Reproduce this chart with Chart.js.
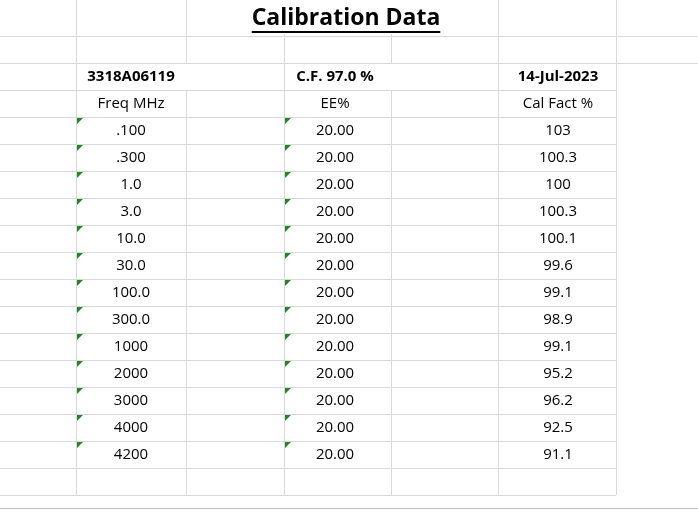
<!DOCTYPE html>
<html><head><meta charset="utf-8">
<script src="https://cdn.jsdelivr.net/npm/chart.js@4"></script>
<style>html,body{margin:0;padding:0;background:#fff}#wrap{width:698px;height:515px}</style>
</head><body><div id="wrap"><canvas id="c" width="698" height="515"></canvas></div>
<script>
const title = "Calibration Data";
const headers = ["3318A06119", "C.F. 97.0 %", "14-Jul-2023"];
const subHeaders = ["Freq MHz", "EE%", "Cal Fact %"];
const freqs = [".100", ".300", "1.0", "3.0", "10.0", "30.0", "100.0", "300.0", "1000", "2000", "3000", "4000", "4200"];
const ee = ["20.00","20.00","20.00","20.00","20.00","20.00","20.00","20.00","20.00","20.00","20.00","20.00","20.00"];
const calFact = [103, 100.3, 100, 100.3, 100.1, 99.6, 99.1, 98.9, 99.1, 95.2, 96.2, 92.5, 91.1];

const colX = [76, 186, 284, 391, 498, 616];
const rowY = [36, 63, 90, 117, 144, 171, 198, 225, 252, 279, 306, 333, 360, 387, 414, 441, 468, 495];
const centers = [131, 335, 558];

const sheet = {
  id: 'sheet',
  afterDraw(chart) {
    const ctx = chart.ctx, xs = chart.scales.x, ys = chart.scales.y;
    const X = v => xs.getPixelForValue(v), Y = v => ys.getPixelForValue(v);
    ctx.save();
    ctx.strokeStyle = '#d9d9d9'; ctx.lineWidth = 1;
    rowY.forEach((y, i) => {
      ctx.beginPath();
      const right = i < 2 ? 698 : 616;
      ctx.moveTo(X(0), Y(y) + 0.5); ctx.lineTo(X(right), Y(y) + 0.5); ctx.stroke();
    });
    colX.forEach(x => {
      const seg = (a, b) => { ctx.beginPath(); ctx.moveTo(X(x) + 0.5, Y(a)); ctx.lineTo(X(x) + 0.5, Y(b)); ctx.stroke(); };
      if (x === 186 || x === 391) { seg(0, 63); seg(90, 495); }
      else seg(0, 495);
    });
    ctx.beginPath(); ctx.moveTo(X(0), Y(508)+0.5); ctx.lineTo(X(698), Y(508)+0.5); ctx.strokeStyle='#bbb'; ctx.stroke();
    // title
    ctx.fillStyle = '#fff'; ctx.fillRect(X(240), Y(0), 210, 34);
    ctx.fillStyle = '#000'; ctx.textAlign = 'center'; ctx.textBaseline = 'middle';
    ctx.font = 'bold 23px "Open Sans", sans-serif';
    ctx.fillText(title, X(346), Y(18));
    const tw = ctx.measureText(title).width;
    ctx.fillRect(X(346) - tw/2, Y(31), tw, 2);
    ctx.font = 'bold 15px "Open Sans", sans-serif';
    headers.forEach((h, i) => ctx.fillText(h, X(centers[i]), Y(77)));
    ctx.font = '15px "Open Sans", sans-serif';
    subHeaders.forEach((h, i) => ctx.fillText(h, X(centers[i]), Y(104)));
    freqs.forEach((f, r) => {
      const cy = Y(131 + 27 * r);
      ctx.fillText(f, X(centers[0]), cy);
      ctx.fillText(ee[r], X(centers[1]), cy);
      ctx.fillText(String(calFact[r]), X(centers[2]), cy);
      ctx.fillStyle = '#1a8a1a';
      [77, 285].forEach(x0 => {
        ctx.beginPath(); ctx.moveTo(X(x0), Y(118)+27*r); ctx.lineTo(X(x0+6), Y(118)+27*r); ctx.lineTo(X(x0), Y(124)+27*r); ctx.fill();
      });
      ctx.fillStyle = '#000';
    });
    ctx.restore();
  }
};

new Chart(document.getElementById('c'), {
  type: 'scatter',
  data: { datasets: [{ data: calFact.map((v, i) => ({ x: centers[2], y: 131 + 27 * i })), pointRadius: 0 }] },
  options: {
    responsive: false, animation: false,
    layout: { padding: 0 },
    plugins: { legend: { display: false }, tooltip: { enabled: false } },
    scales: {
      x: { type: 'linear', min: 0, max: 698, display: false },
      y: { type: 'linear', min: 0, max: 515, reverse: true, display: false }
    }
  },
  plugins: [sheet]
});
</script></body></html>
